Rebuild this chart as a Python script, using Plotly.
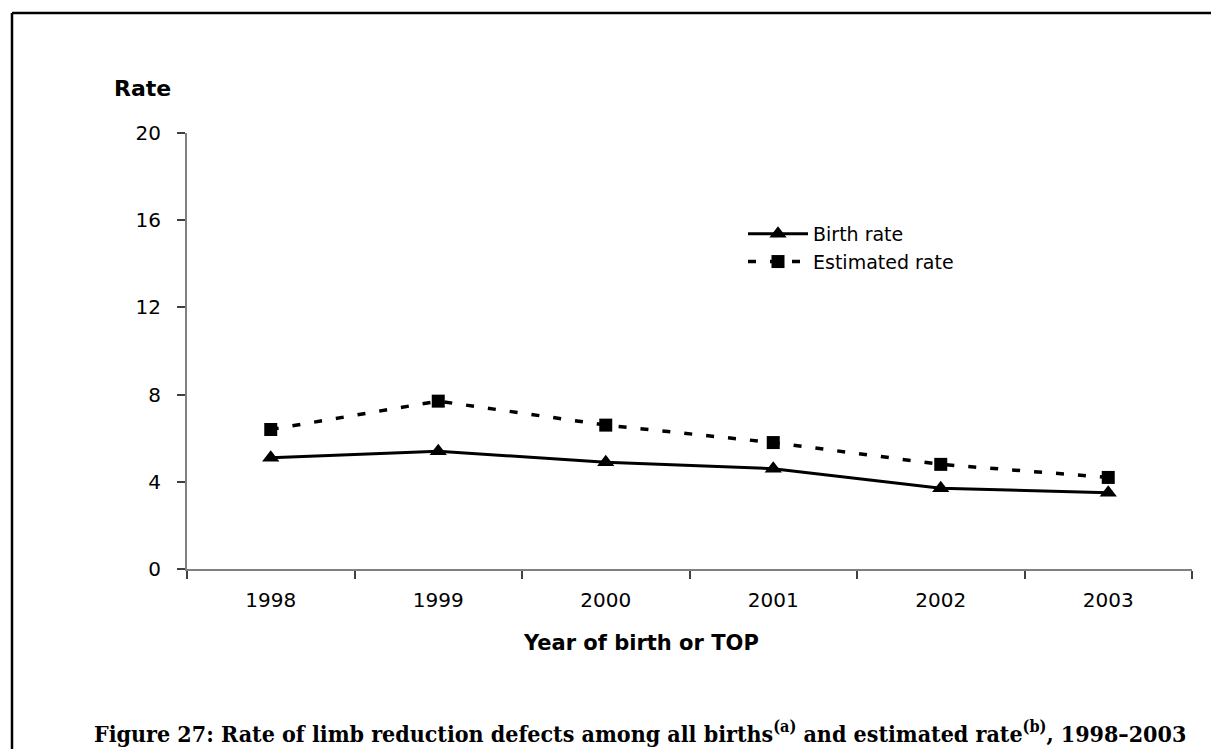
import plotly.graph_objects as go

years = ["1998", "1999", "2000", "2001", "2002", "2003"]
birth_rate = [5.1, 5.4, 4.9, 4.6, 3.7, 3.5]
estimated_rate = [6.4, 7.7, 6.6, 5.8, 4.8, 4.2]
y_ticks = [0, 4, 8, 12, 16, 20]

# page has an 8px body margin, so figure pixel = page pixel - 8
OFF = 8
W, H = 1219 - OFF, 749 - OFF
L, R, T, B = 187 - OFF, 1192 - OFF, 133 - OFF, 569 - OFF  # plot area in figure pixels

FONT = "DejaVu Sans, Liberation Sans, Arial, sans-serif"

fig = go.Figure()
fig.add_trace(go.Scatter(
    x=years, y=birth_rate, name="Birth rate", mode="lines+markers",
    line=dict(color="black", width=3),
    marker=dict(symbol="triangle-up", size=15, color="black"),
))
fig.add_trace(go.Scatter(
    x=years, y=estimated_rate, name="Estimated rate", mode="lines+markers",
    line=dict(color="black", width=3.5, dash="8px,14px"),
    marker=dict(symbol="square", size=13, color="black"),
))

def px_x(p):  # page pixel -> paper
    return (p - OFF - L) / (R - L)

def px_y(p):
    return (B - (p - OFF)) / (B - T)

fig.update_layout(
    width=W, height=H,
    margin=dict(l=L, r=W - R, t=T, b=H - B, pad=0),
    paper_bgcolor="white", plot_bgcolor="white",
    font=dict(family=FONT, color="black", size=20),
    showlegend=True,
    legend=dict(
        x=px_x(743), y=px_y(215), xanchor="left", yanchor="top",
        bgcolor="rgba(0,0,0,0)", font=dict(size=19), tracegroupgap=0,
        itemwidth=60,
    ),
    xaxis=dict(
        type="category", range=[-0.5, 5.5], tickson="boundaries",
        showline=True, linecolor="#808080", linewidth=2,
        ticks="outside", ticklen=8, tickcolor="#404040", tickwidth=1.5,
        showgrid=False, zeroline=False,
        tickfont=dict(size=20), ticklabelstandoff=12,
    ),
    yaxis=dict(
        range=[0, 20], tickvals=y_ticks,
        showline=True, linecolor="#808080", linewidth=2,
        ticks="outside", ticklen=8, tickcolor="#404040", tickwidth=1.5,
        showgrid=False, zeroline=False,
        tickfont=dict(size=20), ticklabelstandoff=12,
    ),
    annotations=[
        dict(text="<b>Rate</b>", xref="paper", yref="paper",
             x=px_x(142), y=px_y(89), xanchor="center", yanchor="middle",
             showarrow=False, font=dict(size=22)),
        dict(text="<b>Year of birth or TOP</b>", xref="paper", yref="paper",
             x=px_x(641), y=px_y(643), xanchor="center", yanchor="middle",
             showarrow=False, font=dict(size=21)),
        dict(text="<b>Figure 27: Rate of limb reduction defects among all births<sup>(a)</sup> and estimated rate<sup>(b)</sup>, 1998\u20132003</b>",
             xref="paper", yref="paper",
             x=px_x(640), y=px_y(732), xanchor="center", yanchor="middle",
             showarrow=False,
             font=dict(size=23, family="DejaVu Serif Condensed, DejaVu Serif, serif")),
    ],
    shapes=[
        dict(type="line", xref="paper", yref="paper",
             x0=px_x(12), x1=px_x(1240), y0=px_y(13), y1=px_y(13),
             line=dict(color="black", width=2.5)),
        dict(type="line", xref="paper", yref="paper",
             x0=px_x(12), x1=px_x(12), y0=px_y(13), y1=px_y(770),
             line=dict(color="black", width=2.5)),
    ],
)

fig.write_html("out.html")
